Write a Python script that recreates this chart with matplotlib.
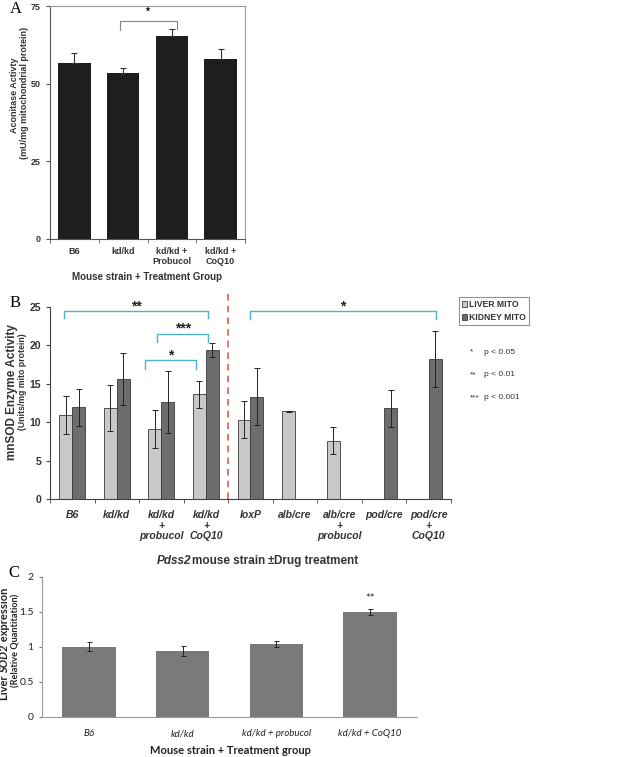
import matplotlib.pyplot as plt
import numpy as np

# panel A - aconitase activity
a_groups = ['B6', 'kd/kd', 'kd/kd +\nProbucol', 'kd/kd +\nCoQ10']
a_vals = [56.5, 53.3, 65.3, 57.8]
a_err = [3.5, 1.9, 2.4, 3.5]

# panel B - mnSOD activity
b_groups = ['B6', 'kd/kd', 'kd/kd\n+\nprobucol', 'kd/kd\n+\nCoQ10', 'loxP',
            'alb/cre', 'alb/cre\n+\nprobucol', 'pod/cre', 'pod/cre\n+\nCoQ10']
liver = [10.9, 11.8, 9.1, 13.6, 10.3, 11.4, 7.6, np.nan, np.nan]
liver_err = [2.5, 3.0, 2.5, 1.8, 2.4, 0.05, 1.7, np.nan, np.nan]
kidney = [11.9, 15.6, 12.6, 19.4, 13.3, np.nan, np.nan, 11.8, 18.2]
kidney_err = [2.4, 3.4, 4.0, 0.9, 3.7, np.nan, np.nan, 2.4, 3.6]

# panel C - SOD2 expression
c_groups = ['B6', 'kd/kd', 'kd/kd + probucol', 'kd/kd + CoQ10']
c_vals = [1.0, 0.94, 1.04, 1.50]
c_err = [0.065, 0.07, 0.04, 0.04]

plt.rcParams['font.family'] = ['Liberation Sans', 'DejaVu Sans']

fig = plt.figure(figsize=(6.33, 7.57), dpi=100)
W, H = 633, 757


def box(l, t, r, b):
    return [l / W, 1 - b / H, (r - l) / W, (b - t) / H]


# ---------------- A ----------------
axA = fig.add_axes(box(50, 6, 245, 239))
xa = np.arange(len(a_vals))
axA.bar(xa, a_vals, width=0.67, color='#1e1e1e')
axA.errorbar(xa, a_vals, yerr=[np.zeros(4), a_err], fmt='none', ecolor='#333333',
             elinewidth=0.8, capsize=2.5, capthick=0.8)
axA.set_xlim(-0.5, 3.5)
axA.set_ylim(0, 75)
axA.set_yticks([0, 25, 50, 75])
axA.set_xticks(xa)
axA.set_xticklabels(a_groups, fontsize=6.5, fontweight='bold', color='#333333', linespacing=1.1)
axA.set_xticks(np.arange(-0.5, 4, 1), minor=True)
axA.tick_params(axis='x', which='major', length=0, pad=6)
axA.tick_params(axis='x', which='minor', length=3, color='#555555')
axA.tick_params(axis='y', labelsize=6.5, length=3, color='#555555', labelcolor='#333333')
for lab in axA.get_yticklabels():
    lab.set_fontweight('bold')
for s in ['top', 'right']:
    axA.spines[s].set_color('#999999')
for s in ['left', 'bottom']:
    axA.spines[s].set_color('#555555')
fig.text(15 / W, 1 - 95 / H, 'Aconitase Activty', rotation=90, fontsize=6.5,
         fontweight='bold', color='#333333', ha='center', va='center')
fig.text(25 / W, 1 - 93 / H, '(mU/mg mitochondrial protein)', rotation=90, fontsize=6.5,
         fontweight='bold', color='#333333', ha='center', va='center')
axA.set_xlabel('Mouse strain + Treatment Group', fontsize=7, fontweight='bold',
               color='#333333', labelpad=4)
axA.plot([0.93, 0.93, 2.1, 2.1], [67.2, 70.2, 70.2, 67.7], color='#888888', lw=0.8)
axA.text(1.5, 71.5, '*', ha='center', va='bottom', fontsize=7, fontweight='bold')
fig.text(10 / W, 1 - 9 / H, 'A', family='Liberation Serif', fontsize=12, va='center')

# ---------------- B ----------------
axB = fig.add_axes(box(50, 306.7, 451, 499))
xb = np.arange(len(b_groups))
bw = 0.29
hl = axB.bar(xb - bw / 2, liver, width=bw, color='#c8c8c8', edgecolor='#3a3a3a',
             lw=0.6, label='LIVER MITO')
hk = axB.bar(xb + bw / 2, kidney, width=bw, color='#6d6d6d', edgecolor='#3a3a3a',
             lw=0.6, label='KIDNEY MITO')
axB.errorbar(xb - bw / 2, liver, yerr=liver_err, fmt='none', ecolor='#222222',
             elinewidth=0.7, capsize=2, capthick=0.7)
axB.errorbar(xb + bw / 2, kidney, yerr=kidney_err, fmt='none', ecolor='#222222',
             elinewidth=0.7, capsize=2, capthick=0.7)
axB.set_xlim(-0.5, 8.5)
axB.set_ylim(0, 25)
axB.set_yticks(range(0, 26, 5))
axB.set_xticks(xb)
axB.set_xticklabels(b_groups, fontsize=7.5, fontweight='bold', style='italic',
                    color='#333333', linespacing=1.05, va='top')
axB.set_xticks(np.arange(-0.5, 9, 1), minor=True)
axB.tick_params(axis='x', which='major', length=0, pad=8)
axB.tick_params(axis='x', which='minor', length=3, color='#444444')
axB.tick_params(axis='y', labelsize=7.5, length=3, color='#444444', labelcolor='#333333')
for lab in axB.get_yticklabels():
    lab.set_fontweight('bold')
for s in ['top', 'right']:
    axB.spines[s].set_visible(False)
axB.spines['left'].set_color('#444444')
axB.spines['bottom'].set_color('#444444')

fig.text(12.5 / W, 1 - 392 / H, 'mnSOD Enzyme Activity', rotation=90, fontsize=8.5,
         fontweight='bold', color='#333333', ha='center', va='center')
fig.text(22.5 / W, 1 - 382 / H, '(Units/mg mito protein)', rotation=90, fontsize=6.3,
         fontweight='bold', color='#333333', ha='center', va='center')

cyan = '#4fb3c8'
brk = [(-0.18, 3.05, 24.4, 23.5, '**'),
       (1.91, 3.05, 21.5, 20.4, '***'),
       (1.64, 2.78, 18.1, 16.9, '*'),
       (3.99, 8.17, 24.4, 23.4, '*')]
for x0, x1, top, end, lab in brk:
    axB.plot([x0, x0, x1, x1], [end, top, top, end], color=cyan, lw=1.0, clip_on=False)
    axB.text((x0 + x1) / 2, top - 0.3, lab, ha='center', va='bottom', fontsize=10,
             fontweight='bold', color='#222222')
axB.plot([3.5, 3.5], [0, 26.7], color='#e0604a', lw=1.2, ls=(0, (4, 3)), clip_on=False)

leg = axB.legend(handles=[hl, hk], loc='upper left', bbox_to_anchor=(459 / W, 1 - 297 / H),
                 bbox_transform=fig.transFigure, fontsize=6.2, frameon=True, fancybox=False,
                 handlelength=0.6, handleheight=0.6, handletextpad=0.2, borderpad=0.35,
                 labelspacing=0.45, borderaxespad=0)
leg.get_frame().set_edgecolor('#777777')
leg.get_frame().set_linewidth(0.8)
for t in leg.get_texts():
    t.set_fontweight('bold')
    t.set_color('#333333')
for sym, p, yy in [('*', 'p < 0.05', 352), ('**', 'p < 0.01', 375), ('***', 'p < 0.001', 398)]:
    fig.text(470 / W, 1 - yy / H, sym, fontsize=6, color='#333333', va='center')
    fig.text(484 / W, 1 - yy / H, p, fontsize=6, color='#333333', va='center')

t1 = fig.text(157 / W, 1 - 561 / H, 'Pdss2', fontsize=8.5, fontweight='bold', style='italic',
              color='#333333', va='center')
t2 = axB.annotate('mouse strain ', xy=(1, 0.5), xycoords=t1, va='center', fontsize=8.5,
                  fontweight='bold', color='#333333')
t3 = axB.annotate('±', xy=(1, 0.5), xycoords=t2, va='center', fontsize=8.5,
                  fontweight='bold', color='#333333')
axB.annotate('Drug treatment', xy=(1, 0.5), xycoords=t3, va='center', fontsize=8.5,
             fontweight='bold', color='#333333')
fig.text(10 / W, 1 - 303 / H, 'B', family='Liberation Serif', fontsize=12, va='center')

# ---------------- C ----------------
axC = fig.add_axes(box(42, 577, 417, 716.7))
xc = np.arange(len(c_vals))
axC.bar(xc, c_vals, width=0.57, color='#7a7a7a')
axC.errorbar(xc, c_vals, yerr=c_err, fmt='none', ecolor='#222222', elinewidth=0.7,
             capsize=1.8, capthick=0.7)
axC.set_xlim(-0.5, 3.5)
axC.set_ylim(0, 2)
axC.set_yticks([0, 0.5, 1, 1.5, 2])
axC.set_yticklabels(['0', '0.5', '1', '1.5', '2'])
axC.set_xticks(xc)
axC.set_xticklabels(c_groups, fontsize=7, style='italic', family='Lato', color='#222222')
axC.tick_params(axis='x', length=0, pad=9)
axC.tick_params(axis='y', labelsize=7.5, length=2.5, color='#777777', labelcolor='#222222')
for lab in axC.get_yticklabels():
    lab.set_family('Lato')
for s in ['top', 'right']:
    axC.spines[s].set_visible(False)
axC.spines['left'].set_color('#999999')
axC.spines['bottom'].set_color('#999999')
axC.text(3, 1.62, '**', ha='center', va='bottom', fontsize=8, family='Lato', color='#333333')

# ylabel of C built from pieces so SOD2 can be italic
yl1 = fig.text(5 / W, 1 - 700 / H, 'Liver ', rotation=90, fontsize=8, family='Lato',
               fontweight='bold', color='#222222', ha='center', va='bottom')
yl2 = axC.annotate('SOD2', xy=(0.5, 1), xycoords=yl1, rotation=90, fontsize=8, family='Lato',
                   fontweight='bold', style='italic', color='#222222', ha='center', va='bottom')
axC.annotate(' expression', xy=(0.5, 1), xycoords=yl2, rotation=90, fontsize=8, family='Lato',
             fontweight='bold', color='#222222', ha='center', va='bottom')
fig.text(15.5 / W, 1 - 640 / H, '(Relative Quantitation)', rotation=90, fontsize=6.6,
         family='Lato', fontweight='bold', color='#222222', ha='center', va='center')
fig.text(230 / W, 1 - 750 / H, 'Mouse strain + Treatment group', fontsize=8, family='Lato',
         fontweight='bold', color='#222222', ha='center', va='center')
fig.text(8 / W, 1 - 573 / H, 'C', family='Liberation Serif', fontsize=12, va='center')

fig.savefig('out.png', dpi=100)
